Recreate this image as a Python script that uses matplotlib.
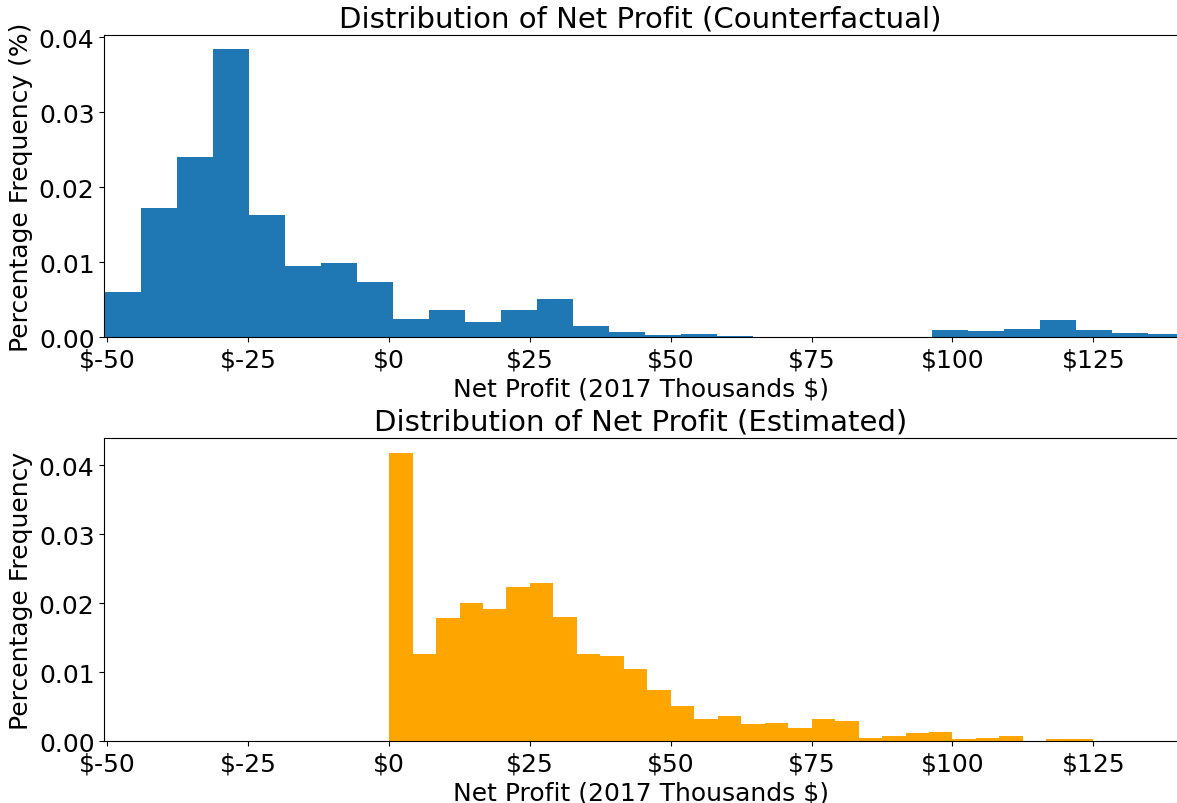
import numpy as np
import matplotlib
matplotlib.use("Agg")
import matplotlib.pyplot as plt

# ---- data ----
cf_start = -50.37
cf_width = 6.383
cf_freq = [0.0060, 0.0172, 0.0240, 0.0384, 0.0163, 0.0095, 0.0099, 0.0074,
           0.0025, 0.0037, 0.0021, 0.0037, 0.0051, 0.0015, 0.00065, 0.00025,
           0.00044, 0.00015, 0.0, 0.0, 0.0001, 0.0001, 0.0001, 0.00102,
           0.00089, 0.0011, 0.0023, 0.00097, 0.00062, 0.00044]

est_start = 0.0
est_width = 25 / 6
est_freq = [0.0418, 0.0127, 0.0178, 0.0201, 0.0192, 0.0223, 0.0229, 0.0180,
            0.0127, 0.0123, 0.0105, 0.0075, 0.0051, 0.0033, 0.0037, 0.0025,
            0.0027, 0.0019, 0.0033, 0.0029, 0.0005, 0.0007, 0.0012, 0.0013,
            0.0003, 0.0005, 0.0007, 0.0, 0.0003, 0.0003]

tick_values = [-50, -25, 0, 25, 50, 75, 100, 125]
tick_labels = ["$-50", "$-25", "$0", "$25", "$50", "$75", "$100", "$125"]

titles = ["Distribution of Net Profit (Counterfactual)",
          "Distribution of Net Profit (Estimated)"]
ylabels = ["Percentage Frequency (%)", "Percentage Frequency"]
xlabel = "Net Profit (2017 Thousands $)"
colors = ["#1f77b4", "orange"]
xlim = (-50.55, 139.85)

W, H = 1177, 804
fig = plt.figure(figsize=(W / 100, H / 100), dpi=100)

def px_axes(left, top, right, bottom):
    return fig.add_axes([left / W, 1 - bottom / H, (right - left) / W, (bottom - top) / H])

ax1 = px_axes(104.3, 35.7, 1177, 338.3)
ax2 = px_axes(104.3, 439.3, 1177, 742.3)

series = [(cf_start, cf_width, cf_freq), (est_start, est_width, est_freq)]
for ax, (start, width, freq), title, ylab, col in zip([ax1, ax2], series, titles, ylabels, colors):
    freq = np.asarray(freq)
    edges = start + width * np.arange(len(freq) + 1)
    ax.hist(edges[:-1], bins=edges, weights=freq, color=col)
    ax.set_xlim(*xlim)
    ax.set_xticks(tick_values)
    ax.set_xticklabels(tick_labels)
    ax.set_yticks([0.0, 0.01, 0.02, 0.03, 0.04])
    ax.tick_params(labelsize=18)
    ax.set_title(title, fontsize=21)
    ax.set_ylabel(ylab, fontsize=18)
    ax.set_xlabel(xlabel, fontsize=18)
    ax.spines["right"].set_visible(False)

fig.savefig("out.png", dpi=100)
